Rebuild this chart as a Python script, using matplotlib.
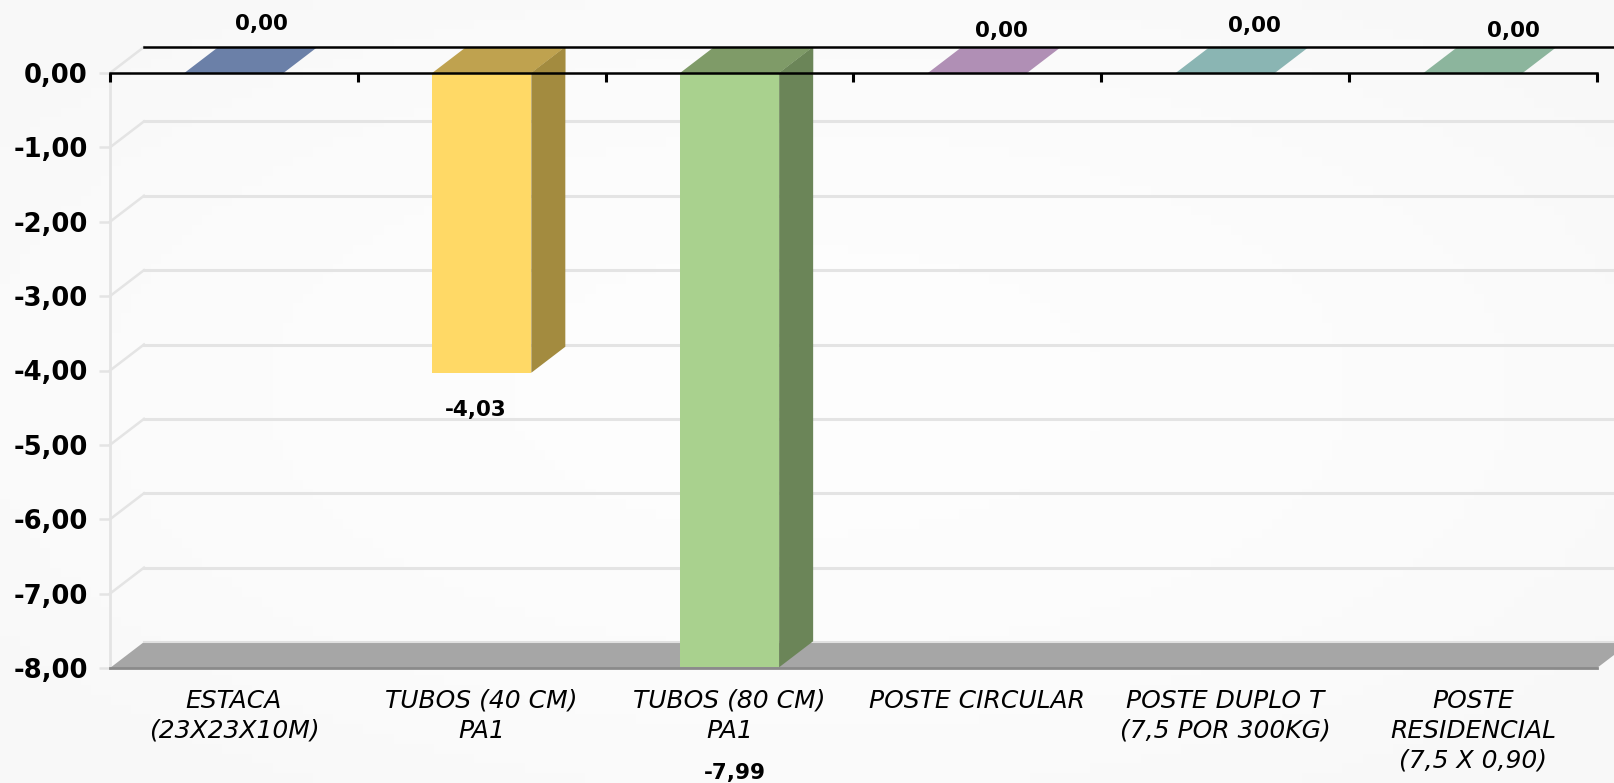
#!/usr/bin/env python3
"""Pseudo-3D column chart with negative values, comma decimals."""
import matplotlib
matplotlib.use("Agg")
import matplotlib.pyplot as plt
import numpy as np
from matplotlib.patches import Polygon

CATEGORIES = ["ESTACA\n(23X23X10M)", "TUBOS (40 CM)\nPA1", "TUBOS (80 CM)\nPA1",
              "POSTE CIRCULAR", "POSTE DUPLO T\n(7,5 POR 300KG)",
              "POSTE\nRESIDENCIAL\n(7,5 X 0,90)"]
VALUES = [0.00, -4.03, -7.99, 0.00, 0.00, 0.00]
Y_TICKS = [0, -1, -2, -3, -4, -5, -6, -7, -8]

FRONT = ["#6f84ad", "#ffd966", "#a9d18e", "#b492b8", "#8cb8b6", "#8eb69e"]
TOP = ["#6b80a8", "#bfa24f", "#7f9b68", "#b08fb5", "#8ab5b3", "#8cb59d"]
SIDE = ["#56688a", "#a38b3f", "#6b8558", "#8d7391", "#6f9190", "#70917e"]
# label offsets from the bar's centre/end, pixels
LABEL_DX = [28, -6, 5, 24, 29, 40]
LABEL_DY = [49, -37, -106, 42, 47, 42]

W, H = 1615, 783
LEFT, RIGHT, TOP_PX, BOTTOM_PX = 110, 1597, 73, 668
BAR_W = 0.40


def fmt(v):
    return f"{v:.2f}".replace(".", ",")


def main():
    plt.rcParams["font.family"] = ["DejaVu Sans"]
    fig = plt.figure(figsize=(W / 100, H / 100), dpi=100, facecolor="#fafafa")

    # soft page background: slightly greyer at the edges
    bg = fig.add_axes([0, 0, 1, 1], zorder=0)
    xx, yy = np.meshgrid(np.linspace(-1, 1, 160), np.linspace(-1, 1, 80))
    shade = 0.99 - 0.02 * np.clip(xx ** 2 + yy ** 2, 0, 1.6) / 1.6
    bg.imshow(shade, cmap="gray", vmin=0, vmax=1, aspect="auto")
    bg.set_axis_off()

    ax = fig.add_axes([LEFT / W, 1 - BOTTOM_PX / H, (RIGHT - LEFT) / W,
                       (BOTTOM_PX - TOP_PX) / H], zorder=1)
    ax.patch.set_alpha(0)
    n = len(VALUES)
    ax.set_xlim(0, n)
    ax.set_ylim(-8, 0)
    for s in ax.spines.values():
        s.set_visible(False)

    # depth of the 3D box, in data units
    ddx = 34 / ((RIGHT - LEFT) / n)
    ddy = 26 / ((BOTTOM_PX - TOP_PX) / 8)
    x_end = n + 1  # walls run off the picture, clipped by the figure

    # back wall gridlines and their slants on the side wall
    for t in Y_TICKS[1:-1]:
        ax.plot([ddx, x_end], [t + ddy, t + ddy], color="#e4e4e4", lw=2.2,
                clip_on=False, zorder=1)
        ax.plot([0, ddx], [t, t + ddy], color="#e4e4e4", lw=1.8,
                clip_on=False, zorder=1)
    ax.plot([0, ddx], [0, ddy], color="#e4e4e4", lw=1.8, clip_on=False, zorder=1)
    ax.plot([0, 0], [-8, 0], color="#e4e4e4", lw=2, clip_on=False, zorder=1)

    # floor
    ax.add_patch(Polygon([(0, -8), (n, -8), (n + ddx, -8 + ddy), (ddx, -8 + ddy)],
                         fc="#a6a6a6", ec="none", clip_on=False, zorder=2))
    ax.plot([ddx, x_end], [-8 + ddy] * 2, color="#e0e0e0", lw=1.5, clip_on=False, zorder=2)
    ax.plot([0, n], [-8, -8], color="#8a8a8a", lw=2, clip_on=False, zorder=2.5)

    # bars: side face, front face, top face
    for i, v in enumerate(VALUES):
        x0, x1 = i + 0.5 - BAR_W / 2, i + 0.5 + BAR_W / 2
        if v != 0:
            ax.add_patch(Polygon([(x1, 0), (x1 + ddx, ddy), (x1 + ddx, v + ddy), (x1, v)],
                                 fc=SIDE[i], ec="none", clip_on=False, zorder=3))
            ax.add_patch(Polygon([(x0, 0), (x1, 0), (x1, v), (x0, v)],
                                 fc=FRONT[i], ec="none", clip_on=False, zorder=3))
        ax.add_patch(Polygon([(x0, 0), (x1, 0), (x1 + ddx, ddy), (x0 + ddx, ddy)],
                             fc=TOP[i], ec="none", clip_on=False, zorder=3))
        if v != 0:
            ax.add_patch(Polygon([(x1, 0), (x1 + ddx, ddy), (x1 + ddx, 0)],
                                 fc=SIDE[i], ec="none", clip_on=False, zorder=3.1))
        ax.annotate(fmt(v), (i + 0.5, v), xytext=(LABEL_DX[i], LABEL_DY[i]),
                    textcoords="offset pixels", ha="center", va="center",
                    fontsize=15.5, fontweight="bold", color="black",
                    annotation_clip=False, zorder=6)

    # black zero line and back line, category ticks
    ax.plot([0, n], [0, 0], color="black", lw=1.8, clip_on=False, zorder=5)
    ax.plot([ddx, x_end], [ddy, ddy], color="black", lw=1.8, clip_on=False, zorder=5)
    ax.vlines(np.arange(n + 1), -0.12, 0, color="black", lw=2.2, clip_on=False, zorder=5)

    ax.set_yticks(Y_TICKS, [fmt(t) for t in Y_TICKS], fontsize=18.6, fontweight="bold")
    ax.tick_params(axis="y", length=8, width=1.8, color="#e4e4e4", pad=8)
    ax.set_xticks(np.arange(n) + 0.5, CATEGORIES, fontsize=18, style="italic",
                  linespacing=1.3)
    ax.tick_params(axis="x", length=0, pad=15)

    fig.savefig("out.png", dpi=100, facecolor=fig.get_facecolor())


if __name__ == "__main__":
    main()
